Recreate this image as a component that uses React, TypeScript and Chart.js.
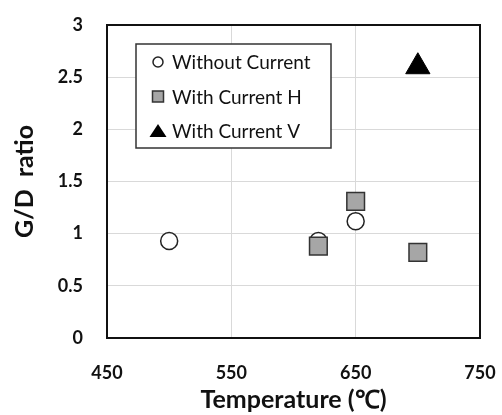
import React, { useEffect, useRef } from "react";
import { Chart, registerables } from "chart.js";
Chart.register(...registerables);

const seriesNames = ["Without Current", "With Current H", "With Current V"];
const withoutX = [500, 620, 650];
const withoutY = [0.93, 0.93, 1.12];
const hX = [620, 650, 700];
const hY = [0.88, 1.31, 0.82];
const vX = [700];
const vY = [2.6];
const xMin = 450, xMax = 750, xStep = 100;
const yMin = 0, yMax = 3, yStep = 0.5;

const FONT = "Lato";

const framePlugin = {
  id: "frame",
  afterDatasetsDraw(chart: any) {
    const { ctx, chartArea: a } = chart;
    ctx.save();
    ctx.strokeStyle = "#111";
    ctx.lineWidth = 2;
    ctx.strokeRect(a.left, a.top, a.right - a.left, a.bottom - a.top);
    ctx.restore();
  },
};

const legendPlugin = {
  id: "boxLegend",
  afterDraw(chart: any) {
    const { ctx, chartArea: a } = chart;
    const x0 = a.left + 29, y0 = a.top + 19, w = 195, h = 104;
    ctx.save();
    ctx.fillStyle = "#fff";
    ctx.fillRect(x0, y0, w, h);
    ctx.strokeStyle = "#333";
    ctx.lineWidth = 1.5;
    ctx.strokeRect(x0, y0, w, h);
    ctx.font = `19px ${FONT}`;
    ctx.textBaseline = "middle";
    ctx.textAlign = "left";
    chart.data.datasets.forEach((ds: any, i: number) => {
      const cy = y0 + 18 + i * 34.5;
      const cx = x0 + 22;
      ctx.fillStyle = ds.backgroundColor;
      ctx.strokeStyle = ds.borderColor;
      ctx.lineWidth = 1.5;
      ctx.beginPath();
      if (ds.pointStyle === "circle") {
        ctx.arc(cx, cy, 5, 0, Math.PI * 2);
        ctx.fill();
        ctx.stroke();
      } else if (ds.pointStyle === "rect") {
        ctx.rect(cx - 5.5, cy - 5.5, 11, 11);
        ctx.fill();
        ctx.stroke();
      } else {
        ctx.moveTo(cx, cy - 7);
        ctx.lineTo(cx + 8.5, cy + 6);
        ctx.lineTo(cx - 8.5, cy + 6);
        ctx.closePath();
        ctx.fill();
      }
      ctx.fillStyle = "#111";
      ctx.fillText(ds.label, x0 + 36, cy + 1);
    });
    ctx.restore();
  },
};

function toPts(xs: number[], ys: number[]) {
  return xs.map((x, i) => ({ x, y: ys[i] }));
}

export default function App() {
  const ref = useRef<HTMLCanvasElement>(null);
  useEffect(() => {
    const chart = new Chart(ref.current!, {
      type: "scatter",
      data: {
        datasets: [
          {
            label: seriesNames[0],
            data: toPts(withoutX, withoutY),
            pointStyle: "circle",
            pointRadius: 8.5,
            backgroundColor: "#ffffff",
            borderColor: "#222",
            borderWidth: 1.5,
            order: 2,
          },
          {
            label: seriesNames[1],
            data: toPts(hX, hY),
            pointStyle: "rect",
            pointRadius: 12.5,
            backgroundColor: "#a6a6a6",
            borderColor: "#333",
            borderWidth: 1.5,
            order: 1,
          },
          {
            label: seriesNames[2],
            data: toPts(vX, vY),
            pointStyle: "triangle",
            pointRadius: 14,
            backgroundColor: "#000",
            borderColor: "#000",
            borderWidth: 1,
            order: 0,
          },
        ],
      },
      options: {
        animation: false,
        responsive: true,
        maintainAspectRatio: false,
        layout: { padding: { top: 25, right: 22, left: 0, bottom: 0 } },
        plugins: { legend: { display: false }, tooltip: { enabled: false } },
        scales: {
          x: {
            type: "linear",
            min: xMin,
            max: xMax,
            ticks: {
              stepSize: xStep,
              padding: 24,
              color: "#111",
              font: { family: FONT, size: 18, weight: "bold" },
              callback: (v: any) => String(v),
            },
            grid: { color: "#d9d9d9", drawTicks: false },
            border: { display: false },
            title: {
              display: true,
              text: "Temperature (℃)",
              color: "#111",
              font: { family: FONT, size: 25, weight: "bold" },
              padding: { top: 2, bottom: 0 },
            },
            afterFit(scale: any) {
              scale.height = 77;
              scale.paddingLeft = 0;
              scale.paddingRight = 0;
            },
          },
          y: {
            min: yMin,
            max: yMax,
            ticks: {
              stepSize: yStep,
              padding: 24,
              color: "#111",
              font: { family: FONT, size: 18, weight: "bold" },
              callback: (v: any) => String(v),
            },
            grid: { color: "#d9d9d9", drawTicks: false },
            border: { display: false },
            title: {
              display: true,
              text: "G/D  ratio",
              color: "#111",
              font: { family: FONT, size: 25, weight: "bold" },
              padding: { top: 10, bottom: 0 },
            },
            afterFit(scale: any) {
              scale.width = 107;
              scale.paddingTop = 0;
              scale.paddingBottom = 0;
            },
          },
        },
      },
      plugins: [framePlugin, legendPlugin],
    } as any);
    return () => chart.destroy();
  }, []);
  return (
    <div style={{ position: "absolute", left: 0, top: 0, width: 502, height: 415, background: "#fff" }}>
      <canvas ref={ref} />
    </div>
  );
}
